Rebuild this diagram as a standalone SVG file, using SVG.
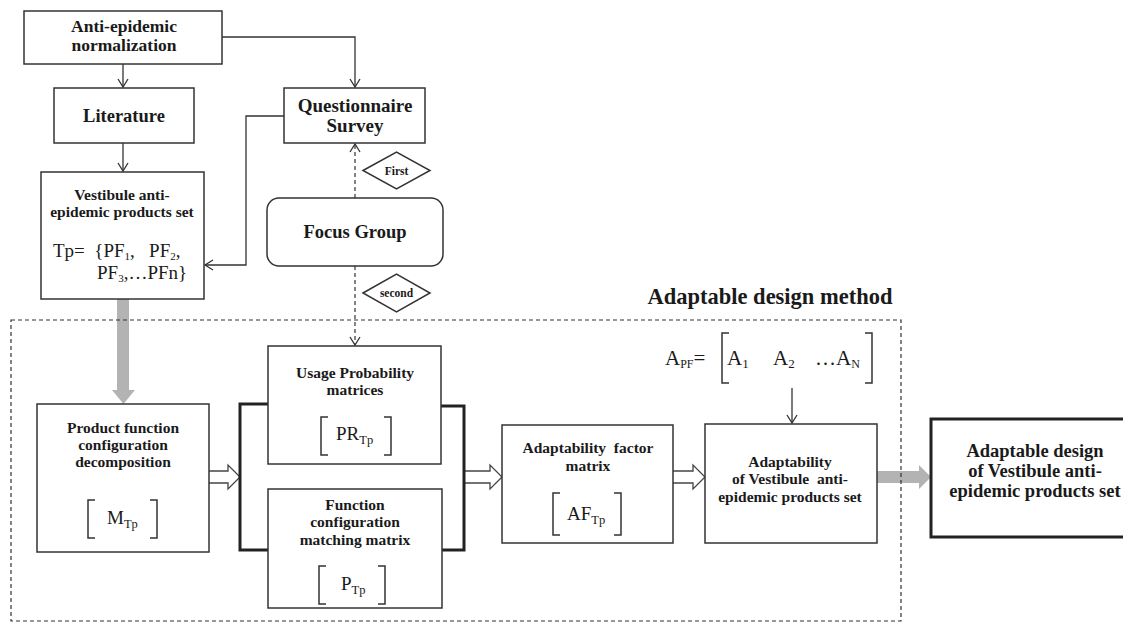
<svg xmlns="http://www.w3.org/2000/svg" width="1123" height="624" viewBox="0 0 1123 624">
<style>
.box{fill:#fff;stroke:#333;stroke-width:1.5}
.t{font-family:"Liberation Serif","Times New Roman",serif;font-weight:bold;fill:#1a1a1a;text-anchor:middle}
.m{font-family:"Liberation Serif","Times New Roman",serif;fill:#1a1a1a}
.ln{fill:none;stroke:#333;stroke-width:1.3}
.dash{fill:none;stroke:#333;stroke-width:1.2;stroke-dasharray:4 3}
.br{fill:none;stroke:#333;stroke-width:1.5}
.hollow{fill:#fff;stroke:#444;stroke-width:1.3}
.gray{fill:#b3b3b3;stroke:none}
</style>
<defs>
<marker id="v" markerWidth="12" markerHeight="12" refX="10" refY="6" orient="auto" markerUnits="userSpaceOnUse">
<path d="M2,1 L10,6 L2,11" fill="none" stroke="#333" stroke-width="1.3"/>
</marker>
</defs>
<rect width="1123" height="624" fill="#fff"/>

<g id="connectors">
<line class="ln" x1="123" y1="64" x2="123" y2="87" marker-end="url(#v)"/>
<line class="ln" x1="123" y1="143" x2="123" y2="171" marker-end="url(#v)"/>
<polyline class="ln" points="222,37 355,37 355,87" marker-end="url(#v)"/>
<polyline class="ln" points="284,116 246,116 246,265 205,265" marker-end="url(#v)"/>
<line class="dash" x1="355" y1="198" x2="355" y2="144" marker-end="url(#v)"/>
<line class="dash" x1="355" y1="266" x2="355" y2="345" marker-end="url(#v)"/>
<line class="ln" x1="792" y1="388" x2="792" y2="423" marker-end="url(#v)"/>
<path class="gray" d="M117,299 H129 V390 H135 L123.5,404 L112,390 H117 Z"/>
<path class="gray" d="M877,471 H919 V465 L931,477 L919,489 V483 H877 Z"/>
<path class="hollow" d="M209,471 H228 V465 L240,477 L228,489 V483 H209"/>
<path class="hollow" d="M464,471 H490 V465 L502,477 L490,489 V483 H464"/>
<path class="hollow" d="M673,471 H693 V465 L705,477 L693,489 V483 H673"/>
<polyline fill="none" stroke="#222" stroke-width="3" points="268,404 240,404 240,550 268,550"/>
<polyline fill="none" stroke="#222" stroke-width="3" points="441,406 464,406 464,550 442,550"/>
</g>

<rect id="boundary" class="dash" x="11" y="320" width="890" height="301"/>
<text class="t" x="770" y="304" font-size="22.5">Adaptable design method</text>

<g id="anti-epidemic">
<rect class="box" x="24" y="11" width="198" height="53"/>
<text class="t" x="124" y="32" font-size="17.5">Anti-epidemic</text>
<text class="t" x="124" y="51" font-size="17.5">normalization</text>
</g>

<g id="literature">
<rect class="box" x="54" y="88" width="140" height="55"/>
<text class="t" x="124" y="122" font-size="18.5">Literature</text>
</g>

<g id="questionnaire">
<rect class="box" x="284" y="88" width="141" height="55"/>
<text class="t" x="355" y="112" font-size="19">Questionnaire</text>
<text class="t" x="355" y="132" font-size="19">Survey</text>
</g>

<g id="first">
<polygon class="box" points="363,170.5 396.5,152 430,170.5 396.5,189"/>
<text class="t" x="396.5" y="174.5" font-size="11.5">First</text>
</g>

<g id="vestibule-set">
<rect class="box" x="41" y="172" width="163" height="127"/>
<text class="t" x="122" y="200" font-size="15.5">Vestibule anti-</text>
<text class="t" x="122" y="217" font-size="15.5">epidemic products set</text>
<text class="m" x="53" y="257" font-size="19" xml:space="preserve">Tp=  {PF<tspan font-size="11" dy="3">1</tspan><tspan dy="-3">,   PF</tspan><tspan font-size="11" dy="3">2</tspan><tspan dy="-3">,</tspan></text>
<text class="m" x="97" y="279" font-size="19">PF<tspan font-size="11" dy="3">3</tspan><tspan dy="-3">,…PFn}</tspan></text>
</g>

<g id="focus-group">
<rect class="box" x="267" y="198" width="176" height="68" rx="12"/>
<text class="t" x="355" y="238" font-size="18.5">Focus Group</text>
</g>

<g id="second">
<polygon class="box" points="363,293 396.5,274 430,293 396.5,312"/>
<text class="t" x="396.5" y="297" font-size="11.5">second</text>
</g>

<g id="product-function">
<rect class="box" x="37" y="404" width="172" height="148"/>
<text class="t" x="123" y="433" font-size="15.5">Product function</text>
<text class="t" x="123" y="450" font-size="15.5">configuration</text>
<text class="t" x="123" y="467" font-size="15.5">decomposition</text>
<path class="br" d="M95,500 H88 V538 H95 M150,500 H157 V538 H150"/>
<text class="m" x="107" y="524" font-size="19">M<tspan font-size="12.5" dy="4">Tp</tspan></text>
</g>

<g id="usage-probability">
<rect class="box" x="268" y="346" width="173" height="118"/>
<text class="t" x="355" y="378" font-size="15.5">Usage Probability</text>
<text class="t" x="355" y="395" font-size="15.5">matrices</text>
<path class="br" d="M328,417 H321 V455 H328 M384,417 H391 V455 H384"/>
<text class="m" x="336" y="440" font-size="19">PR<tspan font-size="12.5" dy="4">Tp</tspan></text>
</g>

<g id="function-config">
<rect class="box" x="268" y="489" width="174" height="119"/>
<text class="t" x="355" y="510" font-size="15.5">Function</text>
<text class="t" x="355" y="527" font-size="15.5">configuration</text>
<text class="t" x="355" y="545" font-size="15.5">matching matrix</text>
<path class="br" d="M326,566 H319 V604 H326 M378,566 H385 V604 H378"/>
<text class="m" x="341" y="590" font-size="19">P<tspan font-size="12.5" dy="4">Tp</tspan></text>
</g>

<g id="af-matrix">
<rect class="box" x="502" y="425" width="171" height="118"/>
<text class="t" x="588" y="453" font-size="15.5" xml:space="preserve">Adaptability  factor</text>
<text class="t" x="588" y="471" font-size="15.5">matrix</text>
<path class="br" d="M560,493 H553 V535 H560 M614,493 H621 V535 H614"/>
<text class="m" x="567" y="520" font-size="19">AF<tspan font-size="12.5" dy="4">Tp</tspan></text>
</g>

<g id="apf">
<text class="m" x="665" y="365" font-size="21">A<tspan font-size="12" dy="3">PF</tspan><tspan dy="-3">=</tspan></text>
<path class="br" d="M729,333 H722 V383 H729 M865,333 H872 V383 H865"/>
<text class="m" x="727" y="365" font-size="21">A<tspan font-size="13" dy="3">1</tspan></text>
<text class="m" x="773" y="365" font-size="21">A<tspan font-size="13" dy="3">2</tspan></text>
<text class="m" x="815" y="365" font-size="21">…A<tspan font-size="12" dy="3">N</tspan></text>
</g>

<g id="adaptability">
<rect class="box" x="705" y="424" width="172" height="119"/>
<text class="t" x="790" y="467" font-size="15.5">Adaptability</text>
<text class="t" x="790" y="484" font-size="15.5" xml:space="preserve">of Vestibule  anti-</text>
<text class="t" x="790" y="502" font-size="15.5">epidemic products set</text>
</g>

<g id="final">
<rect fill="#fff" stroke="#222" stroke-width="3" x="931" y="419" width="200" height="118"/>
<text class="t" x="1035" y="457" font-size="18.5">Adaptable design</text>
<text class="t" x="1035" y="477" font-size="18.5">of Vestibule anti-</text>
<text class="t" x="1035" y="497" font-size="18.5">epidemic products set</text>
</g>
</svg>
